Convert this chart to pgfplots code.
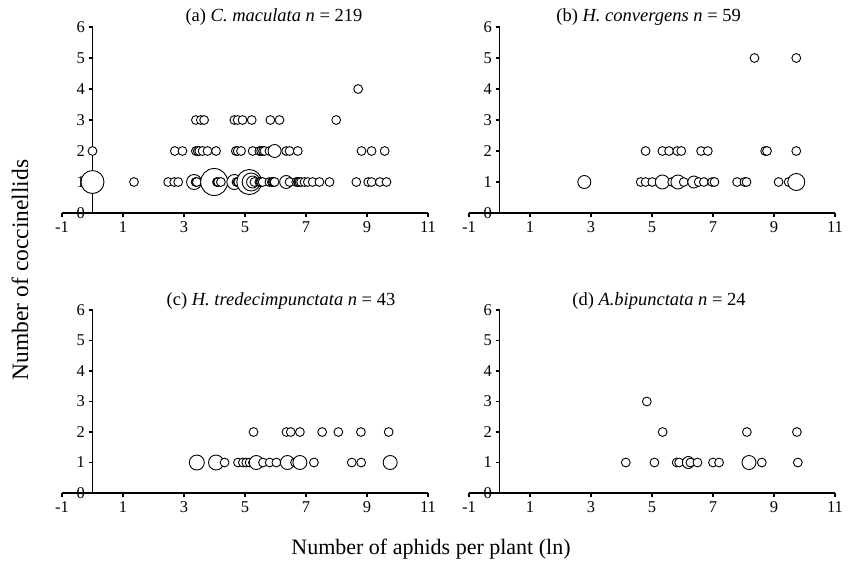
\documentclass[border=0pt]{standalone}
\usepackage{pgfplots}
\pgfplotsset{compat=1.18}
\usepackage{pgfplotstable}
\usepackage{fontspec}
\setmainfont{Liberation Serif}

\pgfplotstableread{
x y r
0 1 11.5
1.36 1 4.4
2.48 1 4.4
2.68 1 4.4
2.81 1 4.4
3.33 1 7.5
3.38 1 4.4
3.40 1 4.4
3.42 1 4.4
3.99 1 13.5
4.08 1 4.4
4.10 1 4.4
4.12 1 4.4
4.21 1 4.4
4.65 1 7.5
4.72 1 4.4
4.76 1 4.4
4.78 1 4.4
5.14 1 12.5
5.20 1 9
5.25 1 6
5.31 1 4.4
5.47 1 4.4
5.50 1 4.4
5.53 1 4.4
5.58 1 4.4
5.80 1 4.4
5.88 1 4.4
5.91 1 4.4
5.95 1 4.4
5.97 1 4.4
6.35 1 6.5
6.46 1 4.4
6.68 1 4.4
6.73 1 4.4
6.75 1 4.4
6.79 1 4.4
6.84 1 4.4
6.95 1 4.4
7.06 1 4.4
7.22 1 4.4
7.44 1 4.4
7.77 1 4.4
8.65 1 4.4
9.04 1 4.4
9.15 1 4.4
9.42 1 4.4
9.64 1 4.4
0 2 4.4
2.70 2 4.4
2.95 2 4.4
3.39 2 4.4
3.45 2 4.4
3.50 2 4.4
3.61 2 4.4
3.77 2 4.4
4.05 2 4.4
4.70 2 4.4
4.76 2 4.4
4.87 2 4.4
5.25 2 4.4
5.47 2 4.4
5.53 2 4.4
5.59 2 4.4
5.64 2 4.4
5.80 2 4.4
5.97 2 6.5
6.35 2 4.4
6.46 2 4.4
6.73 2 4.4
8.82 2 4.4
9.15 2 4.4
9.58 2 4.4
3.39 3 4.4
3.55 3 4.4
3.66 3 4.4
4.65 3 4.4
4.76 3 4.4
4.92 3 4.4
5.22 3 4.4
5.83 3 4.4
6.13 3 4.4
7.99 3 4.4
8.71 4 4.4
}\dataA

\pgfplotstableread{
x y r
2.78 1 6.5
4.63 1 4.4
4.79 1 4.4
5.01 1 4.4
5.34 1 7
5.66 1 4.4
5.85 1 7
6.04 1 4.4
6.37 1 6
6.53 1 4.4
6.70 1 4.4
6.97 1 4.4
7.05 1 4.4
7.79 1 4.4
8.03 1 4.4
8.10 1 4.4
9.15 1 4.4
9.48 1 4.4
9.73 1 8.5
4.79 2 4.4
5.34 2 4.4
5.56 2 4.4
5.83 2 4.4
5.96 2 4.4
6.61 2 4.4
6.83 2 4.4
8.71 2 4.4
8.77 2 4.4
9.73 2 4.4
8.36 5 4.4
9.73 5 4.4
}\dataB

\pgfplotstableread{
x y r
3.42 1 7.5
4.05 1 7.5
4.33 1 4.4
4.77 1 4.4
4.93 1 4.4
5.04 1 4.4
5.15 1 4.4
5.26 1 4.4
5.37 1 7
5.59 1 4.4
5.81 1 4.4
6.03 1 4.4
6.39 1 7
6.64 1 4.4
6.80 1 7
7.26 1 4.4
8.50 1 4.4
8.81 1 4.4
9.76 1 7
5.28 2 4.4
6.36 2 4.4
6.50 2 4.4
6.80 2 4.4
7.53 2 4.4
8.06 2 4.4
8.80 2 4.4
9.71 2 4.4
}\dataC

\pgfplotstableread{
x y r
4.14 1 4.4
5.08 1 4.4
5.81 1 4.4
5.89 1 4.4
6.19 1 6
6.26 1 4.4
6.49 1 4.4
7.00 1 4.4
7.20 1 4.4
8.18 1 7
8.60 1 4.4
9.78 1 4.4
5.35 2 4.4
8.11 2 4.4
9.75 2 4.4
4.83 3 4.4
}\dataD

\pgfplotsset{
 panel/.style={
  scale only axis, width=366pt, xmin=-1, xmax=11, ymin=0, ymax=6,
  axis x line=bottom, axis y line=middle,
  axis line style={-, line width=1.1pt, black},
  xtick={-1,1,3,5,7,9,11}, xticklabels={-1,1,3,5,7,9,11},
  ytick={0,1,2,3,4,5,6}, yticklabels={0,1,2,3,4,5,6},
  tick align=outside, major tick length=4pt,
  tick style={line width=1.1pt, black},
  hide obscured x ticks=false, hide obscured y ticks=false,
  tick label style={font=\fontsize{16.5}{16.5}\selectfont},
  xticklabel style={yshift=-1pt},
  clip=false,
 },
 bub/.style={scatter, only marks, mark=*,
  scatter/use mapped color={draw=black, fill=white},
  mark options={line width=0.9pt},
  visualization depends on={\thisrow{r}\as\rr},
  scatter/@pre marker code/.append style={/tikz/mark size=\rr}},
}

\begin{document}
\begin{tikzpicture}
\path[use as bounding box] (0,0) rectangle (856pt,-566pt);

\begin{axis}[panel, height=186pt, at={(62pt,-213pt)}, anchor=south west]
\addplot[bub] table[x=x,y=y] {\dataA};
\node[anchor=base, font=\fontsize{18.5}{18.5}\selectfont] at (axis cs:5.95,6.19) {(a) \textit{C. maculata n} = 219};
\end{axis}

\begin{axis}[panel, height=186pt, at={(469pt,-213pt)}, anchor=south west]
\addplot[bub] table[x=x,y=y] {\dataB};
\node[anchor=base, font=\fontsize{18.5}{18.5}\selectfont] at (axis cs:4.89,6.19) {(b) \textit{H. convergens n} = 59};
\end{axis}

\begin{axis}[panel, height=183pt, at={(62pt,-493pt)}, anchor=south west]
\addplot[bub] table[x=x,y=y] {\dataC};
\node[anchor=base, font=\fontsize{18.5}{18.5}\selectfont] at (axis cs:6.18,6.15) {(c) \textit{H. tredecimpunctata n} = 43};
\end{axis}

\begin{axis}[panel, height=183pt, at={(469pt,-493pt)}, anchor=south west]
\addplot[bub] table[x=x,y=y] {\dataD};
\node[anchor=base, font=\fontsize{18.5}{18.5}\selectfont] at (axis cs:5.23,6.15) {(d) \textit{A.bipunctata n} = 24};
\end{axis}

\node[rotate=90, anchor=base, font=\fontsize{23.5}{23.5}\selectfont] at (28pt,-270pt) {Number of coccinellids};
\node[anchor=base, font=\fontsize{22}{22}\selectfont] at (431pt,-554pt) {Number of aphids per plant (ln)};
\end{tikzpicture}
\end{document}
